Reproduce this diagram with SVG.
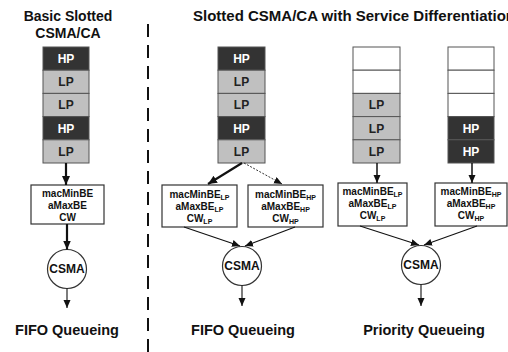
<svg xmlns="http://www.w3.org/2000/svg" width="508" height="352" viewBox="0 0 508 352">
<style>
text{font-family:"Liberation Sans",Arial,sans-serif;font-weight:bold;text-anchor:middle}
.title{font-size:14px;fill:#111}
.foot{font-size:14.5px;fill:#111}
.hp rect{fill:#333;stroke:#555;stroke-width:1}
.lp rect{fill:#c0c0c0;stroke:#555;stroke-width:1}
.em rect{fill:#fff;stroke:#555;stroke-width:1}
.hp text{font-size:12px;fill:#fff}
.lp text{font-size:12px;fill:#222}
.box rect{fill:#fff;stroke:#333;stroke-width:1.2}
.box text{font-size:10px;fill:#111}
.sub{font-size:7px}
.node circle{fill:#fff;stroke:#333;stroke-width:1.2}
.node text{font-size:12px;fill:#111}
.thick{stroke:#111;stroke-width:2.2;fill:none;marker-end:url(#ah)}
.thin{stroke:#111;stroke-width:1.1;fill:none;marker-end:url(#ah2)}
.dash{stroke:#333;stroke-width:1;fill:none;stroke-dasharray:2 1.5;marker-end:url(#ah2)}
</style>
<defs>
<marker id="ah" markerUnits="userSpaceOnUse" markerWidth="10" markerHeight="10" refX="9" refY="4" orient="auto"><path d="M0,0 L9,4 L0,8 z" fill="#111"/></marker>
<marker id="ah2" markerUnits="userSpaceOnUse" markerWidth="10" markerHeight="10" refX="8" refY="3.5" orient="auto"><path d="M0,0 L8,3.5 L0,7 z" fill="#111"/></marker>
</defs>
<rect width="508" height="352" fill="#fff"/>

<text class="title" x="68" y="21">Basic Slotted</text>
<text class="title" x="68" y="38">CSMA/CA</text>
<text class="title" x="193" y="21" style="text-anchor:start;font-size:15px">Slotted CSMA/CA with Service Differentiation</text>

<line x1="148" y1="24" x2="148" y2="352" stroke="#111" stroke-width="2" stroke-dasharray="13 8"/>

<!-- Left stack -->
<g id="stack1">
<g class="hp"><rect x="43" y="47" width="46" height="23.2"/><text x="66" y="63">HP</text></g>
<g class="lp"><rect x="43" y="70.2" width="46" height="23.2"/><text x="66" y="86.2">LP</text></g>
<g class="lp"><rect x="43" y="93.4" width="46" height="23.2"/><text x="66" y="109.4">LP</text></g>
<g class="hp"><rect x="43" y="116.6" width="46" height="23.2"/><text x="66" y="132.6">HP</text></g>
<g class="lp"><rect x="43" y="139.8" width="46" height="23.2"/><text x="66" y="155.8">LP</text></g>
</g>
<g id="box1" class="box"><rect x="31" y="185" width="73" height="39"/>
<text x="67.5" y="197">macMinBE</text><text x="67.5" y="209">aMaxBE</text><text x="67.5" y="221">CW</text></g>
<g id="csma1" class="node"><circle cx="67" cy="269" r="19.5"/><text x="67" y="273.3">CSMA</text></g>
<text class="foot" x="67" y="335">FIFO Queueing</text>

<!-- Middle stack -->
<g id="stack2">
<g class="hp"><rect x="218" y="47" width="47" height="23.2"/><text x="241.5" y="63">HP</text></g>
<g class="lp"><rect x="218" y="70.2" width="47" height="23.2"/><text x="241.5" y="86.2">LP</text></g>
<g class="lp"><rect x="218" y="93.4" width="47" height="23.2"/><text x="241.5" y="109.4">LP</text></g>
<g class="hp"><rect x="218" y="116.6" width="47" height="23.2"/><text x="241.5" y="132.6">HP</text></g>
<g class="lp"><rect x="218" y="139.8" width="47" height="23.2"/><text x="241.5" y="155.8">LP</text></g>
</g>
<g id="box2lp" class="box"><rect x="162" y="185" width="75" height="42"/>
<text x="199.5" y="198">macMinBE<tspan class="sub" dy="2">LP</tspan></text>
<text x="199.5" y="210">aMaxBE<tspan class="sub" dy="2">LP</tspan></text>
<text x="199.5" y="222">CW<tspan class="sub" dy="2">LP</tspan></text></g>
<g id="box2hp" class="box"><rect x="248" y="185" width="75" height="42"/>
<text x="285.5" y="198">macMinBE<tspan class="sub" dy="2">HP</tspan></text>
<text x="285.5" y="210">aMaxBE<tspan class="sub" dy="2">HP</tspan></text>
<text x="285.5" y="222">CW<tspan class="sub" dy="2">HP</tspan></text></g>
<g id="csma2" class="node"><circle cx="242" cy="266" r="19.5"/><text x="242" y="270.3">CSMA</text></g>
<text class="foot" x="243" y="335">FIFO Queueing</text>

<!-- Right stacks -->
<g id="stack3">
<g class="em"><rect x="353" y="47" width="47" height="23.2"/></g>
<g class="em"><rect x="353" y="70.2" width="47" height="23.2"/></g>
<g class="lp"><rect x="353" y="93.4" width="47" height="23.2"/><text x="376.5" y="109.4">LP</text></g>
<g class="lp"><rect x="353" y="116.6" width="47" height="23.2"/><text x="376.5" y="132.6">LP</text></g>
<g class="lp"><rect x="353" y="139.8" width="47" height="23.2"/><text x="376.5" y="155.8">LP</text></g>
</g>
<g id="stack4">
<g class="em"><rect x="448" y="47" width="46" height="23.2"/></g>
<g class="em"><rect x="448" y="70.2" width="46" height="23.2"/></g>
<g class="em"><rect x="448" y="93.4" width="46" height="23.2"/></g>
<g class="hp"><rect x="448" y="116.6" width="46" height="23.2"/><text x="471" y="132.6">HP</text></g>
<g class="hp"><rect x="448" y="139.8" width="46" height="23.2"/><text x="471" y="155.8">HP</text></g>
</g>
<g id="box3lp" class="box"><rect x="338" y="183" width="69" height="43"/>
<text x="372.5" y="195">macMinBE<tspan class="sub" dy="2">LP</tspan></text>
<text x="372.5" y="207">aMaxBE<tspan class="sub" dy="2">LP</tspan></text>
<text x="372.5" y="219">CW<tspan class="sub" dy="2">LP</tspan></text></g>
<g id="box3hp" class="box"><rect x="435" y="183" width="72" height="43"/>
<text x="471" y="195">macMinBE<tspan class="sub" dy="2">HP</tspan></text>
<text x="471" y="207">aMaxBE<tspan class="sub" dy="2">HP</tspan></text>
<text x="471" y="219">CW<tspan class="sub" dy="2">HP</tspan></text></g>
<g id="csma3" class="node"><circle cx="421" cy="265" r="19.5"/><text x="421" y="269.3">CSMA</text></g>
<text class="foot" x="424" y="335">Priority Queueing</text>

<g id="connectors">
<line class="thick" x1="66" y1="163" x2="66" y2="185"/>
<line class="thick" x1="67" y1="224" x2="67" y2="249.5"/>
<line class="thin" x1="67" y1="288.5" x2="67" y2="308"/>

<line class="thick" x1="242" y1="163" x2="208" y2="184"/>
<line class="dash" x1="244" y1="163" x2="282" y2="184"/>
<line class="thin" x1="184" y1="227" x2="240" y2="246"/>
<line class="thin" x1="295" y1="227" x2="245" y2="246"/>
<line class="thin" x1="242" y1="285.5" x2="242" y2="306"/>

<line class="thin" x1="377" y1="163" x2="377" y2="183" style="stroke-width:1.5"/>
<line class="thin" x1="472" y1="163" x2="472" y2="183" style="stroke-width:1.5"/>
<line class="thin" x1="360" y1="226" x2="419" y2="245"/>
<line class="thin" x1="477" y1="226" x2="424" y2="245"/>
<line class="thin" x1="421" y1="284.5" x2="421" y2="306"/>
</g>
</svg>
